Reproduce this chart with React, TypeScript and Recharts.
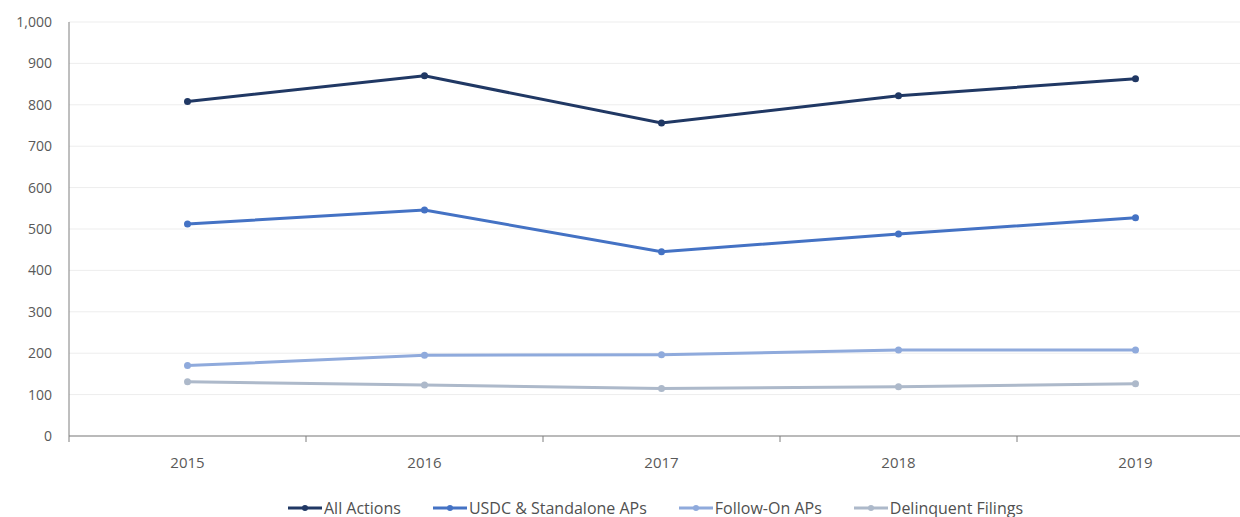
import React from "react"
import { LineChart, Line, XAxis, YAxis, CartesianGrid, Legend } from "recharts"

const years = ["2015", "2016", "2017", "2018", "2019"]
const allActions = [808, 870, 756, 822, 863]
const usdcStandalone = [512, 546, 445, 488, 527]
const followOn = [170, 195, 196, 208, 208]
const delinquent = [131, 123, 115, 119, 126]
const yTicks = [0, 100, 200, 300, 400, 500, 600, 700, 800, 900, 1000]

const series = [
  { key: "all", name: "All Actions", color: "#203864" },
  { key: "usdc", name: "USDC & Standalone APs", color: "#4472C4" },
  { key: "follow", name: "Follow-On APs", color: "#8FAADC" },
  { key: "delinq", name: "Delinquent Filings", color: "#ADB9CA" },
]

const data = years.map((year, i) => ({
  pos: i + 0.5,
  year,
  all: allActions[i],
  usdc: usdcStandalone[i],
  follow: followOn[i],
  delinq: delinquent[i],
}))

const CHART_W = 1270
const MARGIN = { top: 22, right: 16, left: 0, bottom: 8 }
const Y_W = 69
const HALF_BAND = (CHART_W - MARGIN.left - MARGIN.right - Y_W) / years.length / 2

const font = "'Open Sans', 'Noto Sans', sans-serif"

function YearTick(props: any) {
  const { x, y, payload } = props
  const label = years[payload.value]
  if (!label) return null
  return (
    <text x={x + HALF_BAND} y={y} dy="0.71em" textAnchor="middle" fill="#595959" fontSize={15} fontFamily={font}>
      {label}
    </text>
  )
}

function LegendBox() {
  return (
    <div style={{ display: "flex", justifyContent: "center", gap: 32, fontFamily: font, fontSize: 16, color: "#505050", height: 28, alignItems: "center", paddingLeft: 57 }}>
      {series.map((s) => (
        <div key={s.key} style={{ display: "flex", alignItems: "center" }}>
          <svg width={34} height={10} style={{ marginRight: 2 }}>
            <line x1={0} y1={5} x2={34} y2={5} stroke={s.color} strokeWidth={3} />
            <circle cx={17} cy={5} r={3} fill={s.color} />
          </svg>
          <span>{s.name}</span>
        </div>
      ))}
    </div>
  )
}

export default function App() {
  return (
    <div style={{ width: 1240, height: 517, overflow: "hidden", background: "#fff" }}>
      <style>{`body{margin:0}`}</style>
      <LineChart width={CHART_W} height={530} data={data} margin={MARGIN}>
        <CartesianGrid vertical={false} stroke="#EDEDED" />
        <XAxis
          dataKey="pos"
          type="number"
          domain={[0, 5]}
          ticks={[0, 1, 2, 3, 4, 5]}
          tick={<YearTick />}
          tickSize={6}
          tickMargin={15}
          height={58}
          stroke="#7F7F7F"
          interval={0}
        />
        <YAxis
          width={Y_W}
          domain={[0, 1000]}
          ticks={yTicks}
          tickLine={false}
          tickMargin={11}
          stroke="#7F7F7F"
          tick={{ fill: "#595959", fontSize: 14, fontFamily: font }}
          tickFormatter={(v: number) => v.toLocaleString("en-US")}
          interval={0}
        />
        <Legend verticalAlign="bottom" content={<LegendBox />} wrapperStyle={{ height: 28 }} />
        {series.map((s) => (
          <Line
            key={s.key}
            dataKey={s.key}
            name={s.name}
            type="linear"
            stroke={s.color}
            strokeWidth={3}
            dot={{ r: 3.5, fill: s.color, stroke: s.color, strokeWidth: 0 }}
            isAnimationActive={false}
          />
        ))}
      </LineChart>
    </div>
  )
}
